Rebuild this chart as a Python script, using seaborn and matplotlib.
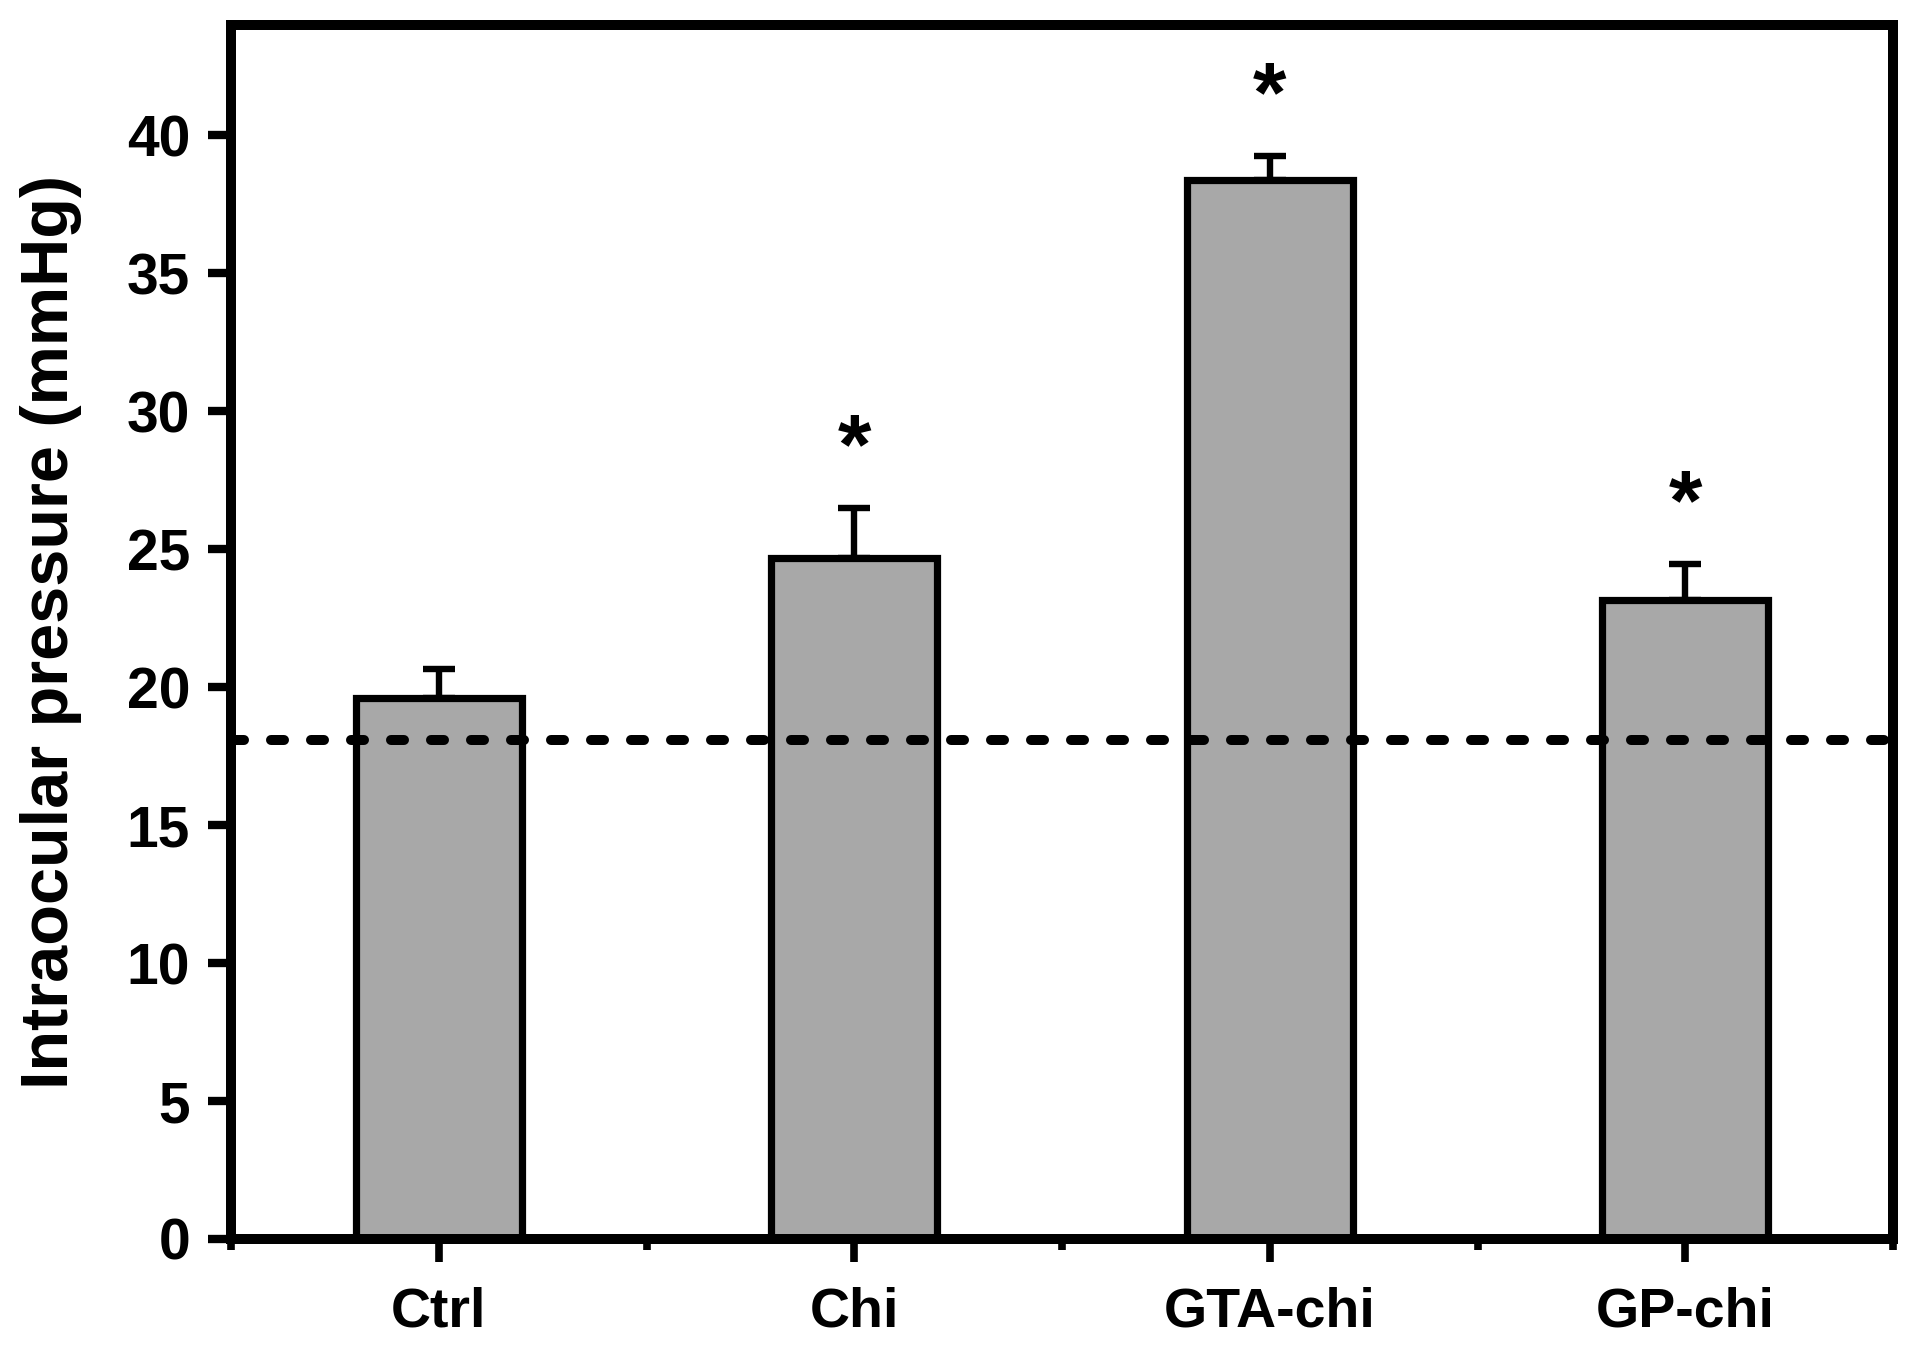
import matplotlib
matplotlib.use("Agg")
import matplotlib.pyplot as plt
import numpy as np
import pandas as pd
import seaborn as sns

# ---- data ----
groups = ["Ctrl", "Chi", "GTA-chi", "GP-chi"]
means = [19.6, 24.7, 38.4, 23.15]
errors = [1.05, 1.8, 0.85, 1.3]
significant = [False, True, True, True]
baseline_iop = 18.1
y_ticks = [0, 5, 10, 15, 20, 25, 30, 35, 40]
y_label = "Intraocular pressure (mmHg)"

sns.set_theme(style="ticks")
plt.rcParams["font.family"] = ["Liberation Sans", "DejaVu Sans"]
plt.rcParams["font.weight"] = "bold"
for k in ["text.color", "axes.labelcolor", "xtick.color", "ytick.color",
          "axes.edgecolor"]:
    plt.rcParams[k] = "black"

W, H, DPI = 1919, 1348, 100
fig = plt.figure(figsize=(W / DPI, H / DPI), dpi=DPI)
fig.patch.set_facecolor("white")
L, R, B, T = 231, 1893, 1239, 25
ax = fig.add_axes([L / W, 1 - B / H, (R - L) / W, (B - T) / H])
ax.set_facecolor("white")

df = pd.DataFrame({"group": groups, "iop": means})
sns.barplot(data=df, x="group", y="iop", color="#a8a8a8", saturation=1,
            width=0.4, edgecolor="black", linewidth=5.2, errorbar=None, ax=ax,
            zorder=2)

x = np.arange(len(groups))
ax.errorbar(x, means, yerr=[np.zeros(len(means)), errors], fmt="none",
            ecolor="black", elinewidth=4.6, capsize=11.5, capthick=4.6,
            zorder=1)

ax.axhline(baseline_iop, color="black", lw=7.2, linestyle=(0, (1.3, 2.7)),
           dash_capstyle="round", zorder=4)

for xi, m, e, s in zip(x, means, errors, significant):
    if s:
        ax.text(xi, m + e + 1.26, "*", ha="center", va="baseline",
                fontsize=62, fontweight="bold", color="black")

ax.set_xlim(-0.5, len(groups) - 0.5)
ax.set_ylim(0, 44)
ax.set_yticks(y_ticks)
ax.set_yticklabels([str(v) for v in y_ticks])
ax.set_xticks(x)
ax.set_xticklabels(groups)
ax.set_xticks(np.arange(-0.5, len(groups), 1.0), minor=True)

for sp in ax.spines.values():
    sp.set_visible(True)
    sp.set_linewidth(7.2)
    sp.set_color("black")

ax.tick_params(axis="y", which="major", direction="out", length=16.5, width=6,
               labelsize=41, pad=13, left=True, right=False, color="black",
               labelcolor="black")
ax.tick_params(axis="x", which="major", direction="out", length=16.5, width=5.5,
               labelsize=40, pad=18, bottom=True, top=False, color="black",
               labelcolor="black")
ax.tick_params(axis="x", which="minor", direction="out", length=8, width=5.5,
               bottom=True, top=False, color="black")
ax.tick_params(axis="y", which="minor", left=False, right=False)
for lab in ax.get_xticklabels() + ax.get_yticklabels():
    lab.set_fontweight("bold")
    lab.set_color("black")

ax.set_xlabel("")
ax.set_ylabel(y_label, fontsize=48, fontweight="bold", color="black")
ax.yaxis.set_label_coords(-0.0897, 0.5)

fig.savefig("out.png", dpi=DPI, facecolor="white")
